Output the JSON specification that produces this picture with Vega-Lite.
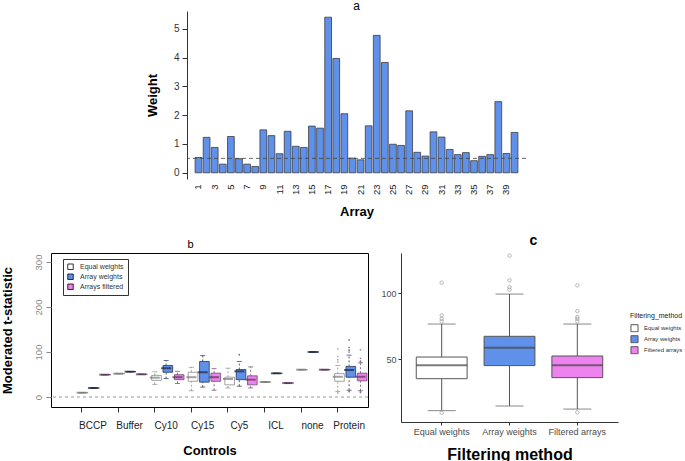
{
  "$schema": "https://vega.github.io/schema/vega-lite/v6.json",
  "background": "white",
  "padding": 0,
  "config": {
    "font": "Liberation Sans",
    "view": {"stroke": null},
    "axis": {"grid": false, "labelOverlap": false, "labelFont": "Liberation Sans", "titleFont": "Liberation Sans"},
    "legend": {"labelFont": "Liberation Sans", "titleFont": "Liberation Sans"},
    "title": {"font": "Liberation Sans", "color": "black"}
  },
  "datasets": {
    "weights": [
      {"array": 1, "weight": 0.53}, {"array": 2, "weight": 1.23}, {"array": 3, "weight": 0.88}, {"array": 4, "weight": 0.30},
      {"array": 5, "weight": 1.26}, {"array": 6, "weight": 0.49}, {"array": 7, "weight": 0.30}, {"array": 8, "weight": 0.22},
      {"array": 9, "weight": 1.49}, {"array": 10, "weight": 1.29}, {"array": 11, "weight": 0.66}, {"array": 12, "weight": 1.44},
      {"array": 13, "weight": 0.92}, {"array": 14, "weight": 0.88}, {"array": 15, "weight": 1.62}, {"array": 16, "weight": 1.55},
      {"array": 17, "weight": 5.40}, {"array": 18, "weight": 3.97}, {"array": 19, "weight": 2.05}, {"array": 20, "weight": 0.51},
      {"array": 21, "weight": 0.45}, {"array": 22, "weight": 1.63}, {"array": 23, "weight": 4.77}, {"array": 24, "weight": 3.83},
      {"array": 25, "weight": 0.99}, {"array": 26, "weight": 0.95}, {"array": 27, "weight": 2.15}, {"array": 28, "weight": 0.71},
      {"array": 29, "weight": 0.58}, {"array": 30, "weight": 1.42}, {"array": 31, "weight": 1.24}, {"array": 32, "weight": 0.81},
      {"array": 33, "weight": 0.63}, {"array": 34, "weight": 0.70}, {"array": 35, "weight": 0.42}, {"array": 36, "weight": 0.57},
      {"array": 37, "weight": 0.63}, {"array": 38, "weight": 2.47}, {"array": 39, "weight": 0.67}, {"array": 40, "weight": 1.40}
    ],
    "ctrlBoxes": [
      {"control": "BCCP", "method": "Equal weights", "min": 9.6, "q1": 9.6, "median": 9.6, "q3": 9.6, "max": 9.6},
      {"control": "BCCP", "method": "Array weights", "min": 20, "q1": 20, "median": 20, "q3": 20, "max": 20},
      {"control": "BCCP", "method": "Arrays filtered", "min": 49.6, "q1": 49.6, "median": 49.6, "q3": 49.6, "max": 49.6},
      {"control": "Buffer", "method": "Equal weights", "min": 51.9, "q1": 51.9, "median": 51.9, "q3": 51.9, "max": 51.9},
      {"control": "Buffer", "method": "Array weights", "min": 56.3, "q1": 56.3, "median": 56.3, "q3": 56.3, "max": 56.3},
      {"control": "Buffer", "method": "Arrays filtered", "min": 50.4, "q1": 50.4, "median": 50.4, "q3": 50.4, "max": 50.4},
      {"control": "Cy10", "method": "Equal weights", "min": 28, "q1": 37, "median": 43, "q3": 48, "max": 56},
      {"control": "Cy10", "method": "Array weights", "min": 41, "q1": 55, "median": 64, "q3": 70, "max": 81},
      {"control": "Cy10", "method": "Arrays filtered", "min": 30, "q1": 38.5, "median": 44, "q3": 49.5, "max": 57},
      {"control": "Cy15", "method": "Equal weights", "min": 14, "q1": 35, "median": 44, "q3": 55, "max": 66},
      {"control": "Cy15", "method": "Array weights", "min": 22, "q1": 33, "median": 55, "q3": 79, "max": 92},
      {"control": "Cy15", "method": "Arrays filtered", "min": 15, "q1": 35, "median": 44, "q3": 53, "max": 63},
      {"control": "Cy5", "method": "Equal weights", "min": 20, "q1": 27, "median": 40, "q3": 44, "max": 64},
      {"control": "Cy5", "method": "Array weights", "min": 24, "q1": 38.5, "median": 57, "q3": 61, "max": 79},
      {"control": "Cy5", "method": "Arrays filtered", "min": 20, "q1": 27, "median": 38.5, "q3": 47, "max": 67},
      {"control": "ICL", "method": "Equal weights", "min": 33.3, "q1": 33.3, "median": 33.3, "q3": 33.3, "max": 33.3},
      {"control": "ICL", "method": "Array weights", "min": 52.6, "q1": 52.6, "median": 52.6, "q3": 52.6, "max": 52.6},
      {"control": "ICL", "method": "Arrays filtered", "min": 31, "q1": 31, "median": 31, "q3": 31, "max": 31},
      {"control": "none", "method": "Equal weights", "min": 60.7, "q1": 60.7, "median": 60.7, "q3": 60.7, "max": 60.7},
      {"control": "none", "method": "Array weights", "min": 100, "q1": 100, "median": 100, "q3": 100, "max": 100},
      {"control": "none", "method": "Arrays filtered", "min": 60.7, "q1": 60.7, "median": 60.7, "q3": 60.7, "max": 60.7},
      {"control": "Protein", "method": "Equal weights", "min": 12, "q1": 35, "median": 45, "q3": 52, "max": 70},
      {"control": "Protein", "method": "Array weights", "min": 15, "q1": 44, "median": 60, "q3": 68, "max": 93},
      {"control": "Protein", "method": "Arrays filtered", "min": 14, "q1": 36, "median": 45, "q3": 53, "max": 76}
    ],
    "ctrlOut": [
      {"control": "Cy5", "method": "Array weights", "value": 94},
      {"control": "Protein", "method": "Equal weights", "value": 78},
      {"control": "Protein", "method": "Equal weights", "value": 83},
      {"control": "Protein", "method": "Equal weights", "value": 90},
      {"control": "Protein", "method": "Equal weights", "value": 107},
      {"control": "Protein", "method": "Equal weights", "value": 9},
      {"control": "Protein", "method": "Array weights", "value": 100},
      {"control": "Protein", "method": "Array weights", "value": 104},
      {"control": "Protein", "method": "Array weights", "value": 110},
      {"control": "Protein", "method": "Array weights", "value": 127},
      {"control": "Protein", "method": "Array weights", "value": 12},
      {"control": "Protein", "method": "Arrays filtered", "value": 78},
      {"control": "Protein", "method": "Arrays filtered", "value": 80},
      {"control": "Protein", "method": "Arrays filtered", "value": 86},
      {"control": "Protein", "method": "Arrays filtered", "value": 105},
      {"control": "Protein", "method": "Arrays filtered", "value": 10},
      {"control": "Protein", "method": "Arrays filtered", "value": 12}
    ],
    "protBoxes": [
      {"method": "Equal weights", "min": 10.9, "q1": 35.1, "median": 45.2, "q3": 51.5, "max": 76.5},
      {"method": "Array weights", "min": 14.4, "q1": 45, "median": 58.6, "q3": 67.2, "max": 99.2},
      {"method": "Filtered arrays", "min": 12.1, "q1": 35.9, "median": 45.2, "q3": 52.3, "max": 76.5}
    ],
    "protOut": [
      {"method": "Equal weights", "value": 107.8}, {"method": "Equal weights", "value": 83},
      {"method": "Equal weights", "value": 80.5}, {"method": "Equal weights", "value": 78.5},
      {"method": "Equal weights", "value": 9.3},
      {"method": "Array weights", "value": 128.3}, {"method": "Array weights", "value": 109.6},
      {"method": "Array weights", "value": 104.5}, {"method": "Array weights", "value": 102.5},
      {"method": "Filtered arrays", "value": 105.8}, {"method": "Filtered arrays", "value": 86.4},
      {"method": "Filtered arrays", "value": 81.8}, {"method": "Filtered arrays", "value": 80.5},
      {"method": "Filtered arrays", "value": 78.5}, {"method": "Filtered arrays", "value": 9.6}
    ],
    "thresholdA": [{"threshold": 0.5}],
    "zeroB": [{"ref": 0}]
  },
  "spacing": 14,
  "center": true,
  "vconcat": [
    {
      "width": 339,
      "height": 168,
      "title": {"text": "a", "fontSize": 12, "fontWeight": "normal", "offset": -2},
      "resolve": {"scale": {"y": "independent"}},
      "layer": [
        {
          "data": {"name": "weights"},
          "mark": {"type": "bar", "fill": "#5F90EA", "stroke": "#3c3c3c", "strokeWidth": 0.8},
          "encoding": {
            "x": {"field": "array", "type": "ordinal", "title": "Array",
              "scale": {"paddingInner": 0.1667, "paddingOuter": 1.58},
              "axis": {"titleFontSize": 13, "titleFontWeight": "bold", "titlePadding": 11, "labelAngle": -90,
                "labelFontSize": 9.5, "labelColor": "#222", "ticks": false, "domain": false, "labelPadding": 5,
                "labelExpr": "datum.value % 2 == 1 ? datum.label : ''"}},
            "y": {"field": "weight", "type": "quantitative", "title": "Weight",
              "scale": {"domain": [-0.216, 5.616], "nice": false, "zero": false},
              "axis": {"titleFontSize": 13, "titleFontWeight": "bold", "titlePadding": 14, "values": [0, 1, 2, 3, 4, 5],
                "labelOverlap": false, "labelAngle": 0, "labelFontSize": 10, "labelColor": "#333", "tickSize": 5, "tickColor": "#333",
                "domainColor": "#333", "labelPadding": 3}},
            "y2": {"datum": 0}
          }
        },
        {
          "data": {"name": "thresholdA"},
          "mark": {"type": "rule", "strokeDash": [4, 3], "color": "#444", "strokeWidth": 0.8},
          "encoding": {"y": {"field": "threshold", "type": "quantitative",
            "scale": {"domain": [-0.216, 5.616], "nice": false, "zero": false},
            "axis": {"orient": "right", "labels": false, "ticks": false, "domain": false, "title": " ", "titleFontSize": 4, "titlePadding": 17}}}
        }
      ]
    },
    {
      "hconcat": [
        {
          "width": 317,
          "height": 154,
          "view": {"stroke": "black", "strokeWidth": 1},
          "title": {"text": "b", "fontSize": 11, "fontWeight": "normal", "offset": 3, "dx": -19},
          "layer": [
            {
              "data": {"name": "zeroB"},
              "mark": {"type": "rule", "strokeDash": [3, 3], "color": "#999", "strokeWidth": 1},
              "encoding": {
                "y": {"field": "ref", "type": "quantitative", "title": "Moderated t-statistic",
                  "scale": {"domain": [-22.2, 320], "nice": false, "zero": false},
                  "axis": {"titleFontSize": 13, "titleFontWeight": "bold", "titlePadding": 19,
                    "values": [0, 50, 100, 150, 200, 250, 300], "labelOverlap": false,
                    "labelExpr": "datum.value == 150 || datum.value == 250 ? '' : datum.label",
                    "labelAngle": -90, "labelAlign": "center", "labelBaseline": "bottom",
                    "labelFontSize": 9.5, "labelColor": "#888", "tickSize": 5, "tickColor": "#888",
                    "domain": false, "labelPadding": 3}}
              }
            },
            {
              "data": {"name": "ctrlBoxes"},
              "mark": {"type": "rule", "strokeDash": [2, 2], "strokeWidth": 0.8},
              "encoding": {
                "x": {"field": "control", "type": "nominal", "title": "Controls",
                  "scale": {"domain": ["BCCP", "Buffer", "Cy10", "Cy15", "Cy5", "ICL", "none", "Protein"], "paddingInner": 0.07, "paddingOuter": 0.366, "align": 0.93},
                  "axis": {"bandPosition": 0.1667, "labelAngle": 0, "labelFontSize": 10, "labelColor": "#222",
                    "tickSize": 5, "tickColor": "#333", "domain": false, "labelPadding": 8,
                    "titleFontSize": 13, "titleFontWeight": "bold", "titlePadding": 14}},
                "xOffset": {"field": "method", "type": "nominal",
                  "scale": {"domain": ["Equal weights", "Array weights", "Arrays filtered"], "paddingInner": 0, "paddingOuter": 0}},
                "y": {"field": "min", "type": "quantitative", "title": "Moderated t-statistic"},
                "y2": {"field": "q1"},
                "stroke": {"condition": [{"test": "datum.method == 'Equal weights'", "value": "#8c8c8c"}, {"test": "datum.method == 'Array weights'", "value": "#2a3350"}], "value": "#6a4a6a"}
              }
            },
            {
              "data": {"name": "ctrlBoxes"},
              "mark": {"type": "rule", "strokeDash": [2, 2], "strokeWidth": 0.8},
              "encoding": {
                "x": {"field": "control", "type": "nominal", "title": "Controls"},
                "xOffset": {"field": "method", "type": "nominal"},
                "y": {"field": "q3", "type": "quantitative", "title": "Moderated t-statistic"},
                "y2": {"field": "max"},
                "stroke": {"condition": [{"test": "datum.method == 'Equal weights'", "value": "#8c8c8c"}, {"test": "datum.method == 'Array weights'", "value": "#2a3350"}], "value": "#6a4a6a"}
              }
            },
            {
              "data": {"name": "ctrlBoxes"},
              "mark": {"type": "tick", "size": 5, "thickness": 1},
              "encoding": {
                "x": {"field": "control", "type": "nominal", "title": "Controls"},
                "xOffset": {"field": "method", "type": "nominal"},
                "y": {"field": "min", "type": "quantitative", "title": "Moderated t-statistic"},
                "color": {"condition": [{"test": "datum.method == 'Equal weights'", "value": "#8c8c8c"}, {"test": "datum.method == 'Array weights'", "value": "#2a3350"}], "value": "#6a4a6a"}
              }
            },
            {
              "data": {"name": "ctrlBoxes"},
              "mark": {"type": "tick", "size": 5, "thickness": 1},
              "encoding": {
                "x": {"field": "control", "type": "nominal", "title": "Controls"},
                "xOffset": {"field": "method", "type": "nominal"},
                "y": {"field": "max", "type": "quantitative", "title": "Moderated t-statistic"},
                "color": {"condition": [{"test": "datum.method == 'Equal weights'", "value": "#8c8c8c"}, {"test": "datum.method == 'Array weights'", "value": "#2a3350"}], "value": "#6a4a6a"}
              }
            },
            {
              "data": {"name": "ctrlBoxes"},
              "mark": {"type": "bar", "strokeWidth": 0.8, "width": {"band": 0.85}},
              "encoding": {
                "x": {"field": "control", "type": "nominal", "title": "Controls"},
                "xOffset": {"field": "method", "type": "nominal"},
                "y": {"field": "q1", "type": "quantitative", "title": "Moderated t-statistic"},
                "y2": {"field": "q3"},
                "fill": {"field": "method", "type": "nominal",
                  "scale": {"domain": ["Equal weights", "Array weights", "Arrays filtered"], "range": ["white", "#5F90EA", "#EE82EE"]},
                  "legend": {"orient": "none", "legendX": 12, "legendY": 6, "title": null, "padding": 4,
                    "strokeColor": "#333", "fillColor": "white", "labelFontSize": 7, "labelColor": "#333",
                    "symbolType": "square", "symbolSize": 30, "symbolStrokeColor": "black", "symbolStrokeWidth": 0.8,
                    "rowPadding": 1, "clipHeight": 7.5, "labelOffset": 6}},
                "stroke": {"condition": [{"test": "datum.method == 'Equal weights'", "value": "#8c8c8c"}, {"test": "datum.method == 'Array weights'", "value": "#2a3350"}], "value": "#6a4a6a"}
              }
            },
            {
              "data": {"name": "ctrlBoxes"},
              "mark": {"type": "tick", "size": 10, "thickness": 2},
              "encoding": {
                "x": {"field": "control", "type": "nominal", "title": "Controls"},
                "xOffset": {"field": "method", "type": "nominal"},
                "y": {"field": "median", "type": "quantitative", "title": "Moderated t-statistic"},
                "color": {"condition": [{"test": "datum.method == 'Equal weights'", "value": "#777777"}, {"test": "datum.method == 'Array weights'", "value": "#1c2440"}], "value": "#553355"}
              }
            },
            {
              "data": {"name": "ctrlOut"},
              "mark": {"type": "point", "shape": "circle", "filled": true, "size": 3},
              "encoding": {
                "x": {"field": "control", "type": "nominal", "title": "Controls"},
                "xOffset": {"field": "method", "type": "nominal"},
                "y": {"field": "value", "type": "quantitative", "title": "Moderated t-statistic"},
                "color": {"condition": [{"test": "datum.method == 'Equal weights'", "value": "#8c8c8c"}, {"test": "datum.method == 'Array weights'", "value": "#2a3350"}], "value": "#6a4a6a"}
              }
            }
          ]
        },
        {
          "width": 217,
          "height": 169,
          "title": {"text": "c", "fontSize": 14, "fontWeight": "bold", "offset": 4, "dx": 24},
          "layer": [
            {
              "data": {"name": "protBoxes"},
              "mark": {"type": "rule", "color": "#555", "strokeWidth": 1},
              "encoding": {
                "x": {"field": "method", "type": "nominal", "title": "Filtering method",
                  "scale": {"domain": ["Equal weights", "Array weights", "Filtered arrays"], "paddingInner": 0, "paddingOuter": 0.1},
                  "axis": {"labelAngle": 0, "labelFontSize": 9, "labelColor": "#4d4d4d", "tickSize": 3, "tickColor": "#333",
                    "domainColor": "#333", "titleFontSize": 16, "titleFontWeight": "bold", "titlePadding": 10, "labelPadding": 2}},
                "y": {"field": "min", "type": "quantitative", "title": null,
                  "scale": {"domain": [2.3, 130.3], "nice": false, "zero": false},
                  "axis": {"values": [50, 100], "labelFontSize": 9, "labelColor": "#4d4d4d", "tickSize": 3,
                    "tickColor": "#333", "domainColor": "#333", "labelPadding": 2}},
                "y2": {"field": "max"}
              }
            },
            {
              "data": {"name": "protBoxes"},
              "mark": {"type": "tick", "size": 28, "thickness": 1, "color": "#555"},
              "encoding": {
                "x": {"field": "method", "type": "nominal", "title": "Filtering method"},
                "y": {"field": "min", "type": "quantitative", "title": null}
              }
            },
            {
              "data": {"name": "protBoxes"},
              "mark": {"type": "tick", "size": 28, "thickness": 1, "color": "#555"},
              "encoding": {
                "x": {"field": "method", "type": "nominal", "title": "Filtering method"},
                "y": {"field": "max", "type": "quantitative", "title": null}
              }
            },
            {
              "data": {"name": "protBoxes"},
              "mark": {"type": "bar", "stroke": "#555", "strokeWidth": 1, "width": {"band": 0.75}},
              "encoding": {
                "x": {"field": "method", "type": "nominal", "title": "Filtering method"},
                "y": {"field": "q1", "type": "quantitative", "title": null},
                "y2": {"field": "q3"},
                "fill": {"field": "method", "type": "nominal",
                  "scale": {"domain": ["Equal weights", "Array weights", "Filtered arrays"], "range": ["white", "#5F90EA", "#EE82EE"]},
                  "legend": {"orient": "none", "legendX": 229, "legendY": 59, "title": "Filtering_method",
                    "titleFontSize": 7, "titleFontWeight": "normal", "titleColor": "#222", "labelFontSize": 6,
                    "labelColor": "#333", "symbolType": "square", "symbolSize": 50, "symbolStrokeColor": "#555",
                    "symbolStrokeWidth": 1, "rowPadding": 2, "clipHeight": 8.5, "labelOffset": 5}}
              }
            },
            {
              "data": {"name": "protBoxes"},
              "mark": {"type": "tick", "size": 51, "thickness": 2, "color": "#444"},
              "encoding": {
                "x": {"field": "method", "type": "nominal", "title": "Filtering method"},
                "y": {"field": "median", "type": "quantitative", "title": null}
              }
            },
            {
              "data": {"name": "protOut"},
              "mark": {"type": "point", "shape": "circle", "filled": false, "size": 12, "color": "#999", "strokeWidth": 1},
              "encoding": {
                "x": {"field": "method", "type": "nominal", "title": "Filtering method"},
                "y": {"field": "value", "type": "quantitative", "title": null}
              }
            }
          ]
        }
      ],
      "spacing": 11,
      "resolve": {"scale": {"x": "independent", "y": "independent", "fill": "independent"}, "legend": {"fill": "independent"}}
    }
  ]
}
